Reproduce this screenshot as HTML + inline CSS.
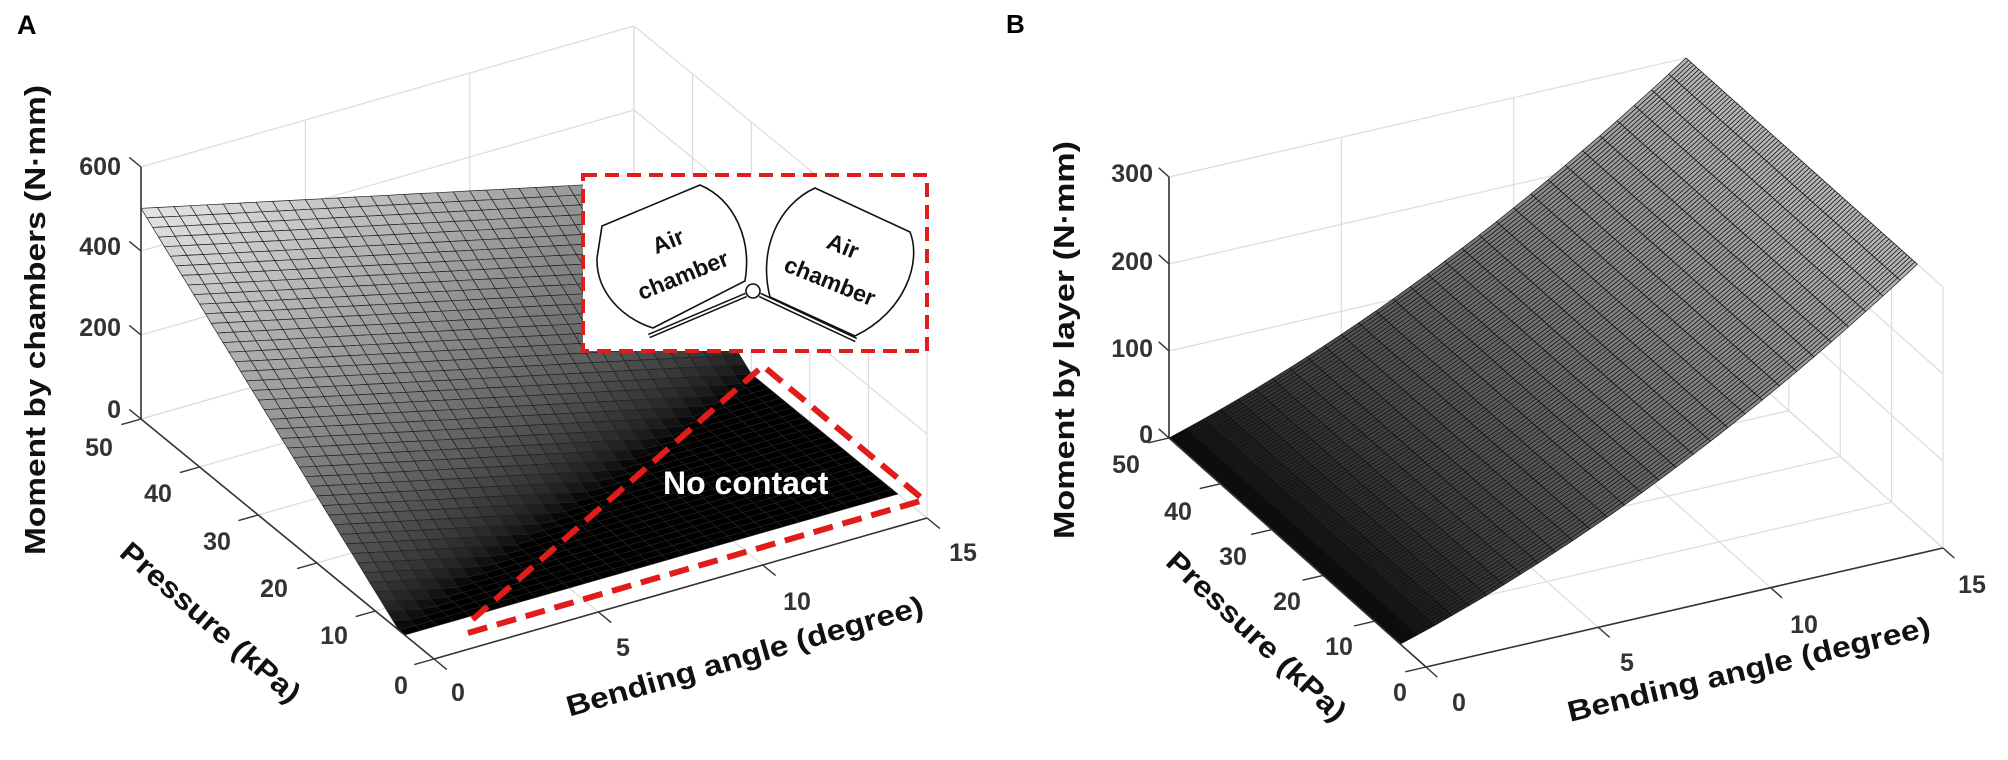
<!DOCTYPE html>
<html><head><meta charset="utf-8">
<style>
html,body{margin:0;padding:0;background:#fff;}
svg{display:block;}
text{font-family:"Liberation Sans",sans-serif;font-weight:bold;}
.tk{fill:#333;font-size:25px;}
.lb{fill:#111;font-size:29px;}
</style></head>
<body>
<svg id="s" width="2008" height="760" viewBox="0 0 2008 760" xmlns="http://www.w3.org/2000/svg">
<g id="gA"></g>
<g id="gB"></g>
<g id="over">
<rect x="583" y="175" width="344" height="176" fill="#fff" stroke="#e21b1b" stroke-width="4" stroke-dasharray="14 8"/>
<path d="M602,226 L700,185 C735,200 752,240 745,281 L653,328 C622,318 596,292 597,258 Z" fill="#fff" stroke="#111" stroke-width="1.6"/>
<path d="M815,188 L910,232 C922,262 905,312 855,336 L770,297 C758,250 778,205 815,188 Z" fill="#fff" stroke="#111" stroke-width="1.6"/>
<line x1="746" y1="295" x2="649" y2="336" stroke="#111" stroke-width="5"/>
<line x1="746" y1="295" x2="649" y2="336" stroke="#fff" stroke-width="2"/>
<line x1="760" y1="295" x2="856" y2="340" stroke="#111" stroke-width="5"/>
<line x1="760" y1="295" x2="856" y2="340" stroke="#fff" stroke-width="2"/>
<circle cx="753" cy="291" r="7" fill="#fff" stroke="#111" stroke-width="1.6"/>
<text x="668" y="241" font-size="23" fill="#111" text-anchor="middle" dominant-baseline="central" transform="rotate(-22 668 241)">Air</text>
<text x="683" y="275" font-size="23" fill="#111" text-anchor="middle" dominant-baseline="central" transform="rotate(-22 683 275)">chamber</text>
<text x="843" y="246" font-size="23" fill="#111" text-anchor="middle" dominant-baseline="central" transform="rotate(22 843 246)">Air</text>
<text x="830" y="281" font-size="23" fill="#111" text-anchor="middle" dominant-baseline="central" transform="rotate(22 830 281)">chamber</text>
<path d="M468,633 L924,500 L763,366 L472,620" fill="none" stroke="#e21b1b" stroke-width="6" stroke-dasharray="20 10"/>
<text x="663" y="494" font-size="32" fill="#fff">No contact</text>
<text x="17" y="34" font-size="27" fill="#000">A</text>
<text x="36" y="320" class="lb" text-anchor="middle" dominant-baseline="central" transform="rotate(-90 36 320)" textLength="470" lengthAdjust="spacingAndGlyphs">Moment by chambers (N·mm)</text>
<text x="210" y="623" class="lb" text-anchor="middle" dominant-baseline="central" transform="rotate(41 210 623)" textLength="228" lengthAdjust="spacingAndGlyphs">Pressure (kPa)</text>
<text x="745" y="657" class="lb" text-anchor="middle" dominant-baseline="central" transform="rotate(-16 745 657)" textLength="370" lengthAdjust="spacingAndGlyphs">Bending angle (degree)</text>
<g class="tk" text-anchor="end" dominant-baseline="central">
<text x="121" y="167">600</text><text x="121" y="247">400</text><text x="121" y="328">200</text><text x="121" y="410">0</text>
</g>
<g class="tk" text-anchor="middle" dominant-baseline="central">
<text x="99" y="448">50</text><text x="158" y="494">40</text><text x="217" y="542">30</text><text x="274" y="589">20</text><text x="334" y="636">10</text><text x="401" y="686">0</text>
<text x="458" y="693">0</text><text x="623" y="648">5</text><text x="797" y="602">10</text><text x="963" y="553">15</text>
</g>
<text x="1006" y="33" font-size="26" fill="#000">B</text>
<text x="1065" y="340" class="lb" text-anchor="middle" dominant-baseline="central" transform="rotate(-90 1065 340)" textLength="398" lengthAdjust="spacingAndGlyphs">Moment by layer (N·mm)</text>
<text x="1256" y="637" class="lb" text-anchor="middle" dominant-baseline="central" transform="rotate(43 1256 637)" textLength="234" lengthAdjust="spacingAndGlyphs">Pressure (kPa)</text>
<text x="1749" y="670" class="lb" text-anchor="middle" dominant-baseline="central" transform="rotate(-13.4 1749 670)" textLength="372" lengthAdjust="spacingAndGlyphs">Bending angle (degree)</text>
<g class="tk" text-anchor="end" dominant-baseline="central">
<text x="1153" y="174">300</text><text x="1153" y="262">200</text><text x="1153" y="349">100</text><text x="1153" y="435">0</text>
</g>
<g class="tk" text-anchor="middle" dominant-baseline="central">
<text x="1126" y="465">50</text><text x="1178" y="512">40</text><text x="1233" y="557">30</text><text x="1287" y="602">20</text><text x="1339" y="647">10</text><text x="1400" y="693">0</text>
<text x="1459" y="703">0</text><text x="1627" y="663">5</text><text x="1804" y="625">10</text><text x="1972" y="585">15</text>
</g>
</g>
</svg>
<script>
(function(){
var NS="http://www.w3.org/2000/svg";
function el(g,t,a){var e=document.createElementNS(NS,t);for(var k in a)e.setAttribute(k,a[k]);g.appendChild(e);return e;}
function line(g,p,q,c,w){el(g,"line",{x1:p[0].toFixed(1),y1:p[1].toFixed(1),x2:q[0].toFixed(1),y2:q[1].toFixed(1),stroke:c,"stroke-width":w});}
function panel(g,pr,zmax,zstep,fz,dt,dp,p0,gmax,gexp,sw,sc){
 var gc="#dcdcdc";
 for(var z=0;z<=zmax;z+=zstep) line(g,pr(0,50,z),pr(15,50,z),gc,1.2);
 for(var t=0;t<=15;t+=5) line(g,pr(t,50,0),pr(t,50,zmax),gc,1.2);
 for(var z=0;z<=zmax;z+=zstep) line(g,pr(15,0,z),pr(15,50,z),gc,1.2);
 for(var p=0;p<=50;p+=10) line(g,pr(15,p,0),pr(15,p,zmax),gc,1.2);
 for(var t=0;t<=15;t+=5) line(g,pr(t,0,0),pr(t,50,0),gc,1.2);
 for(var p=0;p<=50;p+=10) line(g,pr(0,p,0),pr(15,p,0),gc,1.2);
 var cells=[];
 for(var t=0;t<15-1e-9;t+=dt)for(var p=p0;p<50-1e-9;p+=dp){
  var tt=Math.min(t+dt,15),pp=Math.min(p+dp,50);
  var zs=[fz(t,p),fz(tt,p),fz(tt,pp),fz(t,pp)];
  var za=(zs[0]+zs[1]+zs[2]+zs[3])/4;
  cells.push({d:9*(t+tt)+5*(p+pp),pts:[pr(t,p,zs[0]),pr(tt,p,zs[1]),pr(tt,pp,zs[2]),pr(t,pp,zs[3])],z:za});
 }
 cells.sort(function(a,b){return b.d-a.d;});
 cells.forEach(function(c){
  var v=Math.round(255*gmax*Math.pow(Math.max(0,c.z)/zmax,gexp));
  var col="rgb("+v+","+v+","+v+")";
  el(g,"polygon",{points:c.pts.map(function(q){return q[0].toFixed(1)+","+q[1].toFixed(1);}).join(" "),fill:col,stroke:sc,"stroke-width":sw,"stroke-linejoin":"round"});
 });
 var ac="#333";
 line(g,pr(0,50,0),pr(0,50,zmax),ac,1.6);
 for(var z=0;z<=zmax;z+=zstep) line(g,pr(0,50,z),pr(0,52,z),ac,1.4);
 line(g,pr(0,0,0),pr(0,50,0),ac,1.6);
 for(var p=0;p<=50;p+=10) line(g,pr(0,p,0),pr(-0.6,p,0),ac,1.4);
 line(g,pr(0,0,0),pr(15,0,0),ac,1.6);
 for(var t=0;t<=15;t+=5) line(g,pr(t,0,0),pr(t,-2.2,0),ac,1.4);
}
var gA=document.getElementById("gA"),gB=document.getElementById("gB");
function prA(t,p,z){return [434+32.87*t-5.86*p,659-9.4*t-4.8*p-0.42*z];}
function fA(t,p){return Math.max(0,11.4*(p-6-1.6*t));}
panel(gA,prA,600,200,fA,0.5,1,5,1.0,0.6,0.7,"#222");
function prB(t,p,z){return [1426+34.47*t-5.14*p,667-7.93*t-4.58*p-0.87*z];}
function fB(t,p){var u=t/15;return 300*(0.6*u+0.4*u*u);}
panel(gB,prB,300,100,fB,0.5,0.5,5,0.72,0.6,0.7,"#111");
})();
</script>
</body></html>
